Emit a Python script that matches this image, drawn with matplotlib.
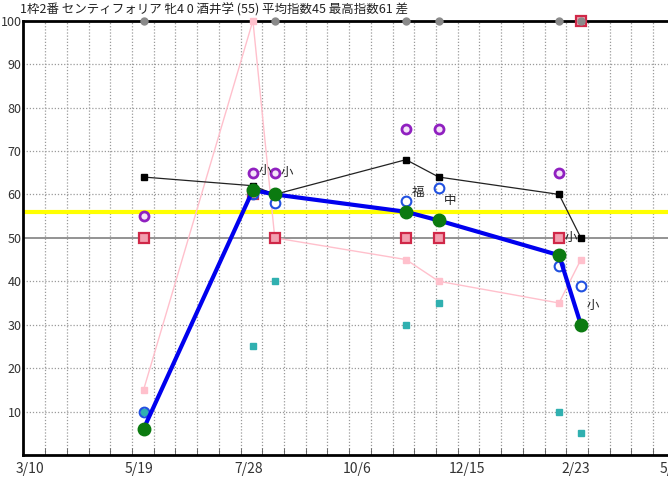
import numpy as np
import pandas as pd
import matplotlib
matplotlib.use('Agg')
import matplotlib.pyplot as plt

plt.rcParams['font.family'] = ['Noto Sans CJK JP', 'DejaVu Sans']

title = '1枠2番 センティフォリア 牝4 0 酒井学 (55) 平均指数45 最高指数61 差'

# race dates and index values
race_dates = ['2022-05-22', '2022-07-31', '2022-08-14', '2022-11-06',
              '2022-11-27', '2023-02-12', '2023-02-26']
index_vals = [6, 61, 60, 56, 54, 46, 30]
black_vals = [64, 62, 60, 68, 64, 60, 50]
pink_vals = [15, 100, 50, 45, 40, 35, 45]
red_vals = [50, 60, 50, 50, 50, 50, 100]
purple_vals = [55, 65, 65, 75, 75, 65, np.nan]
teal_vals = [10, 25, 40, 30, 35, 10, 5]
blue_vals = [10, 60, 58, 58.5, 61.5, 43.5, 39]
course_labels = ['', '小', '小', '福', '中', '小', '小']
label_vals = [np.nan, 65.5, 65, 60.5, 58.5, 50, 34.5]
top_val = 100
avg_line = 56

tick_labels = ['3/10', '5/19', '7/28', '10/6', '12/15', '2/23', '5/4']

start = pd.Timestamp('2022-03-10')
days = np.array([(pd.Timestamp(d) - start).days for d in race_dates])

fig = plt.figure(figsize=(6.68, 4.79), dpi=100)
ax = fig.add_axes([23 / 668, 24 / 479, (670 - 23) / 668, 434.3 / 479])

x_left = -4.2
x_right = (670 - 29.5) / 1.562
ax.set_xlim(x_left, x_right)
ax.set_ylim(0, 100)

# grid
for v in range(10, 100, 10):
    if v == 50:
        ax.axhline(v, color='#808080', lw=1.2, zorder=1)
    else:
        ax.axhline(v, color='#9a9a9a', lw=0.9, ls=(0, (1, 1.5)), zorder=1)
grid_days = np.arange(10, x_right, 13.9)
for g in grid_days:
    ax.axvline(g, color='#9a9a9a', lw=0.9, ls=(0, (1, 1.5)), zorder=1)
ax.set_xticks(grid_days, minor=True)
ax.tick_params(axis='x', which='minor', direction='in', length=5, color='#555555')

ax.axhline(avg_line, color='#ffff00', lw=3, zorder=2)

ax.plot(days, pink_vals, color='#ffc0cc', lw=1, marker='s', ms=4,
        mfc='#ffc0cc', mec='#ffc0cc', zorder=3, clip_on=False)
ax.plot(days, black_vals, color='#222222', lw=0.9, marker='s', ms=4,
        mfc='black', mec='black', zorder=4)
ax.plot(days, teal_vals, ls='none', marker='s', ms=5, mfc='#30b0b0',
        mec='#30b0b0', zorder=4)
ax.plot(days, red_vals, ls='none', marker='s', ms=6.5, mfc='#f2a0b0',
        mec='#d02848', mew=1.6, zorder=5, clip_on=False)
ax.plot(days, purple_vals, ls='none', marker='o', ms=6.5, mfc='#f4e4f8',
        mec='#9020c0', mew=2, zorder=5)
ax.plot(days[days != 143], [top_val] * (len(days) - 1), ls='none', marker='o',
        ms=5, color='#8a8a8a', zorder=6, clip_on=False)
ax.plot(days, blue_vals, ls='none', marker='o', ms=7, mfc='none',
        mec='#2050e0', mew=1.5, zorder=6)

ax.plot(days, index_vals, color='#0000ee', lw=3, zorder=7)
ax.plot(days, index_vals, ls='none', marker='o', ms=9, color='#0b7a10', zorder=8)

for d, lab, v in zip(days, course_labels, label_vals):
    if lab:
        ax.text(d + 3.5, v, lab, fontsize=9, color='#222222', va='center',
                ha='left', zorder=9)

ax.set_yticks(range(10, 101, 10))
ax.set_yticklabels([str(v) for v in range(10, 101, 10)], fontsize=9, color='#333333')
ax.tick_params(axis='y', length=0, pad=1)

ax.set_xticks([0, 70, 140, 210, 280, 350, x_right])
ax.set_xticklabels(tick_labels, fontsize=10, color='#333333')
ax.tick_params(axis='x', which='major', length=0, pad=5)

for s in ['left', 'bottom', 'top']:
    ax.spines[s].set_color('black')
    ax.spines[s].set_linewidth(2)
ax.spines['right'].set_visible(False)

fig.text(20 / 668, 1 - 10 / 479, title, fontsize=9, color='#222222',
         va='center', ha='left')

fig.savefig('out.png', dpi=100)
